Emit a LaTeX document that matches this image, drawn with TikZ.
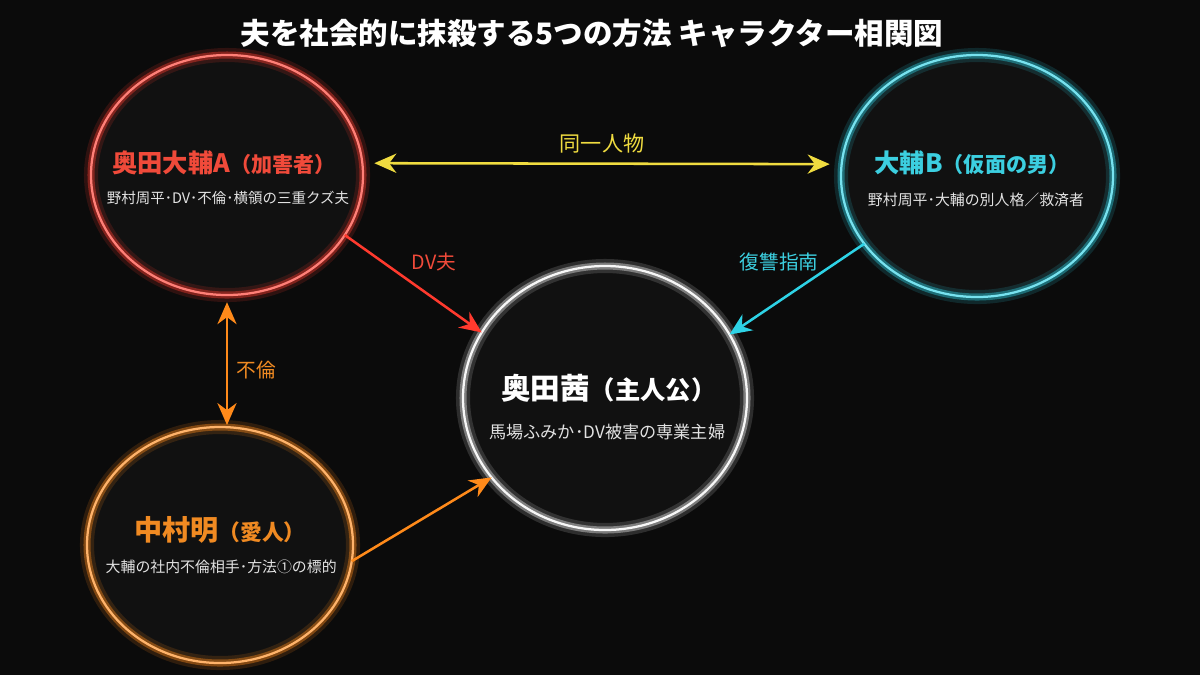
\documentclass[tikz,border=0pt]{standalone}
\usepackage{fontspec}
\setmainfont{Noto Sans CJK JP}
\usetikzlibrary{arrows.meta,calc,shapes.geometric}
\definecolor{bgdark}{HTML}{0B0B0B}
\definecolor{ringfill}{HTML}{111111}
\definecolor{ringred}{HTML}{FF3A2E}
\definecolor{ringcyan}{HTML}{2ED3E6}
\definecolor{ringorange}{HTML}{FF8A1A}
\definecolor{ringwhite}{HTML}{F2F2F2}
\definecolor{txtred}{HTML}{F04A3A}
\definecolor{txtcyan}{HTML}{3CCFE0}
\definecolor{txtorange}{HTML}{F08A22}
\definecolor{txtyellow}{HTML}{F0DC40}
\definecolor{subgrey}{HTML}{E2E2E2}
\tikzset{
	ring/.style={ellipse, inner sep=0pt, outer sep=0pt,
		preaction={fill=ringfill},
		preaction={draw=#1, line width=10pt, draw opacity=0.15},
		preaction={draw=#1, line width=5pt, draw opacity=0.4},
		draw=#1!65!white, line width=1.6pt},
	who/.style={font=\bfseries\fontsize{18}{22}\selectfont},
	whosub/.style={text=subgrey, font=\fontsize{10.5}{13}\selectfont},
	link/.style={line width=1.8pt, ->},
	tag/.style={font=\fontsize{14}{17}\selectfont},
}

\begin{document}
\begin{tikzpicture}[>={Stealth[length=0.55cm,width=0.48cm]}]
			%%%%% START %%%%%
			
			\fill[bgdark] (0, 0) rectangle (30, -16.875);
			\useasboundingbox (0, 0) rectangle (30, -16.875);
			
			\node[text=white, font=\bfseries\fontsize{21}{25}\selectfont] (title) at (14.8, -0.825) {夫を社会的に抹殺する5つの方法 キャラクター相関図};
			
			\node[ring=ringred, minimum width=6.8cm, minimum height=6cm] (okudaA) at (5.675, -4.375) {};
			\node[ring=ringcyan, minimum width=6.8cm, minimum height=6.05cm] (daisukeB) at (24.425, -4.4) {};
			\node[ring=ringwhite, minimum width=7.1cm, minimum height=6.6cm] (akane) at (15.125, -9.95) {};
			\node[ring=ringorange, minimum width=6.65cm, minimum height=5.9cm] (nakamura) at (5.5, -13.625) {};
			
			\node[who, text=txtred] (okudaAname) at (5.6, -4.075) {奥田大輔A{\fontsize{15}{18}\selectfont（加害者）}};
			\node[whosub, font=\fontsize{10.3}{13}\selectfont] (okudaAsub) at (5.7, -4.95) {野村周平･DV･不倫･横領の三重クズ夫};
			
			\node[who, text=txtcyan] (daisukeBname) at (24.3, -4.075) {大輔B{\fontsize{15}{18}\selectfont（仮面の男）}};
			\node[whosub, font=\fontsize{10.6}{13}\selectfont] (daisukeBsub) at (24.4, -5.0) {野村周平･大輔の別人格／救済者};
			
			\node[who, text=white, font=\bfseries\fontsize{21}{25}\selectfont] (akanename) at (15.22, -9.7) {奥田茜{\fontsize{18}{22}\selectfont（主人公）}};
			\node[whosub, font=\fontsize{12.2}{14}\selectfont] (akanesub) at (15.18, -10.8) {馬場ふみか･DV被害の専業主婦};
			
			\node[who, text=txtorange, font=\bfseries\fontsize{20}{24}\selectfont] (nakamuraname) at (5.5, -13.25) {中村明{\fontsize{15.5}{18}\selectfont（愛人）}};
			\node[whosub, font=\fontsize{10.6}{13}\selectfont] (nakamurasub) at (5.53, -14.175) {大輔の社内不倫相手･方法①の標的};
			
			\draw[link, <->, color=txtyellow, shorten <=0.3cm, shorten >=0.3cm] (okudaA.5) -- (daisukeB.175);
			\node[tag, text=txtyellow, font=\fontsize{15}{18}\selectfont] (samelabel) at (15.05, -3.575) {同一人物};
			
			\draw[link, color=ringred] (okudaA.-27) -- (akane.152);
			\node[tag, text=txtred] (dvlabel) at (10.85, -6.55) {DV夫};
			
			\draw[link, color=ringcyan] (daisukeB.211) -- (akane.27);
			\node[tag, text=txtcyan] (revengelabel) at (19.475, -6.55) {復讐指南};
			
			\draw[link, <->, color=ringorange, shorten <=0.18cm, shorten >=0.05cm] (okudaA.south) -- (okudaA.south |- nakamura.north);
			\node[tag, text=txtorange] (affairlabel) at (6.4, -9.25) {不倫};
			
			\draw[link, color=ringorange] (nakamura.-7) -- (akane.215);
			
			%%%%% END %%%%%
		\end{tikzpicture}
\end{document}
